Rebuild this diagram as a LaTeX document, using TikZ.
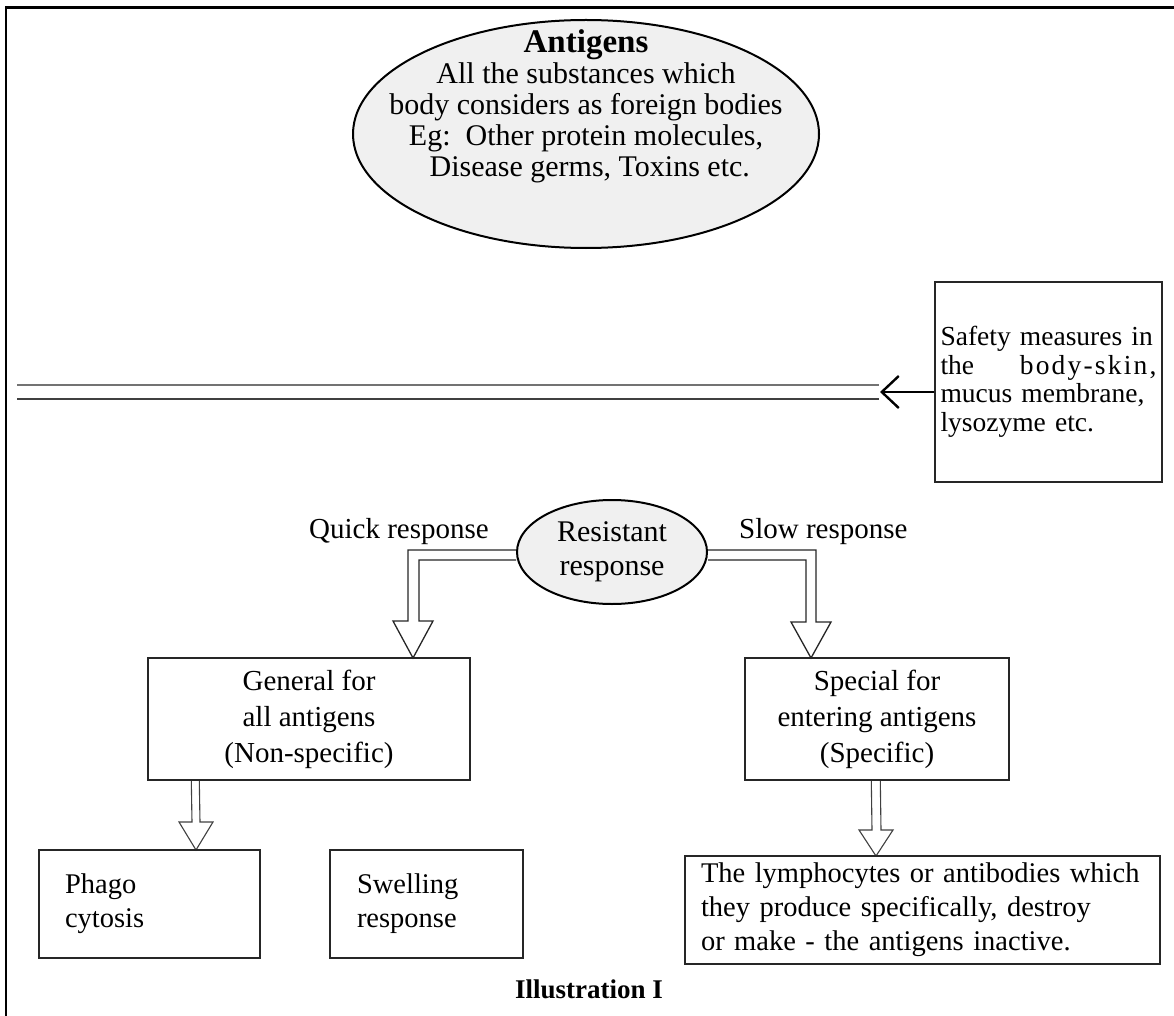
\documentclass[tikz,border=0pt]{standalone}
\usepackage{fontspec}
\setmainfont{Liberation Serif}
\newfontfamily\spacedfont[LetterSpace=8]{Liberation Serif}
\usetikzlibrary{shapes.geometric,arrows.meta,backgrounds,calc}
\begin{document}
\begin{tikzpicture}[x=1pt,y=-1pt,
  bubble/.style={ellipse, draw=black, line width=2pt, fill=black!6, inner sep=0pt},
  boxc/.style={draw=black!85, line width=1.4pt, rectangle, inner sep=0pt, align=center,
    font=\fontsize{29}{36}\selectfont},
  boxl/.style={draw=black!85, line width=1.4pt, rectangle, inner ysep=0pt, align=left,
    font=\fontsize{28.5}{34}\selectfont},
  txt/.style={inner sep=0pt, align=center, font=\fontsize{30}{31}\selectfont},
  lbl/.style={inner sep=0pt, font=\fontsize{29}{31}\selectfont},
  hollow/.style={draw=black!85, line width=1.3pt, fill=white, line join=miter},
  hollowsm/.style={draw=black!75, line width=1.1pt, fill=white, line join=miter},
  rail/.style={line width=1.4pt},
]
\useasboundingbox (0,0) rectangle (1174,1016);
% frame
\draw[line width=2.6pt] (6,1016) -- (6,7.5) -- (1174,7.5);

% antigens ellipse
\node[bubble, minimum width=466pt, minimum height=228pt] (ant) at (586,134) {};
\node[txt, anchor=north] (antT) at (586,29)
  {{\fontsize{33}{31}\selectfont\bfseries Antigens}\\All the substances which\\body considers as foreign bodies\\Eg:\ \ Other protein molecules,\\ \ Disease germs, Toxins etc.};

% safety box and rails
\node[boxl, minimum height=200pt, text width=216pt, inner xsep=5.5pt,
  font=\fontsize{27.5}{28.5}\selectfont] (safe) at (1048.5,382)
  {\mbox{Safety measures in}\\the\hfill{\spacedfont body-skin,}\\mucus membrane,\\lysozyme etc.};
\coordinate (tipA) at (880,392);
\coordinate (r1a) at (17,385); \coordinate (r1b) at (879,385);
\coordinate (r2a) at (17,399); \coordinate (r2b) at (879,399);
\draw[rail, black!55] (r1a) -- (r1b);
\draw[rail, black!75] (r2a) -- (r2b);
\draw[line width=2.4pt, -{Straight Barb[length=17pt, width=32pt]}] ([yshift=-10pt]safe.west) -- (tipA);

% resistant response
\node[bubble, minimum width=190pt, minimum height=104pt, align=center,
  font=\fontsize{30}{34}\selectfont] (rr) at (612,552) {Resistant\\response};
\node[lbl, anchor=base east] (qr) at (489,538) {Quick response};
\node[lbl, anchor=base west] (sr) at (739,538) {Slow response};

% main boxes
\node[boxc, minimum width=322pt, minimum height=122pt] (gen) at (309,719)
  {General for\\all antigens\\(Non-specific)};
\node[boxc, minimum width=264pt, minimum height=122pt] (spec) at (877,719)
  {Special for\\entering antigens\\(Specific)};

\node[boxl, minimum height=108pt, text width=169pt, inner xsep=26pt] (phago) at (149.5,904)
  {Phago\\cytosis};
\node[boxl, minimum height=108pt, text width=139pt, inner xsep=27pt] (swell) at (426.5,904)
  {Swelling\\response};
\node[boxl, minimum height=108pt, text width=455pt, inner xsep=10pt] (lymph) at (922.5,910)
  {\hspace*{6pt}The lymphocytes or antibodies which\\\hspace*{6pt}they produce specifically, destroy\\\hspace*{6pt}or make - the antigens inactive.};

\node[inner sep=0pt, anchor=base west, font=\fontsize{27}{30}\selectfont\bfseries] (cap) at (515,998) {Illustration I};

% hollow arrows
\coordinate (t1) at (413,658);
\coordinate (t2) at (811,658);
\coordinate (t3) at (196,850);
\coordinate (t4) at (876,856);
\begin{scope}[on background layer]
\draw[hollow] ([yshift=2pt]rr.west) -- (408,550) -- (408,621) -- (393,621) -- (t1)
  -- (433,621) -- (419,621) -- (419,560) -- ([yshift=-8pt]rr.west);
\draw[hollow] ([yshift=2pt]rr.east) -- (816,550) -- (816,622) -- (831,622) -- (t2)
  -- (791,622) -- (806,622) -- (806,560) -- ([yshift=-8pt]rr.east);
\draw[hollowsm] ($(gen.south west)+(44,0)$) -- (192,822) -- (179,822) -- (t3)
  -- (213,822) -- (200,822) -- ($(gen.south west)+(52,0)$);
\draw[hollowsm] ($(spec.south west)+(127,0)$) -- (872,830) -- (859,830) -- (t4)
  -- (893,830) -- (881,830) -- ($(spec.south west)+(136,0)$);
\end{scope}
\end{tikzpicture}
\end{document}
